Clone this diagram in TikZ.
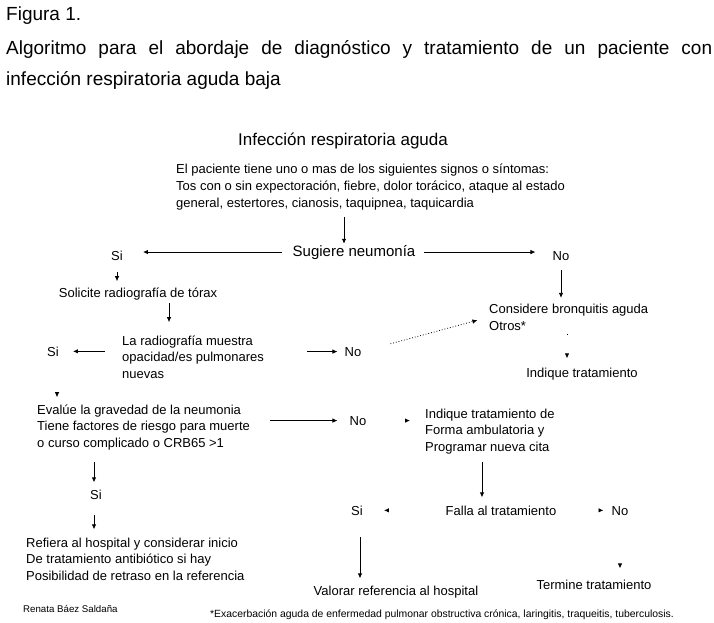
\documentclass[tikz,border=0pt]{standalone}
\usepackage{fontspec}
\setmainfont{Liberation Sans}
\usepackage{tikz}
\usetikzlibrary{arrows.meta,calc}
\tikzset{
  alg/.style={inner sep=0pt, anchor=base, font=\fontsize{13}{16.5}\selectfont},
  algblock/.style={alg, anchor=base west, align=left},
  algarrow/.style={-{Latex[length=5pt,width=4.5pt]}, line width=0.8pt},
  algtip/.style={algarrow, dash pattern=on 0pt off 200pt},
  algdots/.style={algarrow, dotted}
}

\begin{document}
\begin{tikzpicture}[x=1pt, y=-1pt]
\fill[white] (0,0) rectangle (714,623);
\node[algblock, font=\fontsize{19}{31}\selectfont] (fig) at (6,21) {Figura 1.};
\node[algblock, font=\fontsize{19}{31}\selectfont, text width=706pt, align=justify] (ttl) at (6,55)
  {Algoritmo para el abordaje de diagnóstico y tratamiento de un paciente con\linebreak infección respiratoria aguda baja};
\node[alg, font=\fontsize{17}{20}\selectfont] (inf) at (343,146) {Infección respiratoria aguda};
\node[algblock, font=\fontsize{13}{17}\selectfont] (sig) at (176,207)
  {El paciente tiene uno o mas de los siguientes signos o síntomas:\\Tos con o sin expectoración, fiebre, dolor torácico, ataque al estado\\general, estertores, cianosis, taquipnea, taquicardia};
\node[alg, font=\fontsize{15}{18}\selectfont] (sug) at (354,256) {Sugiere neumonía};
\node[alg] (si1) at (117,260) {Si};
\node[alg] (no1) at (561,260) {No};
\node[alg] (sol) at (138,297) {Solicite radiografía de tórax};
\node[algblock] (rad) at (122,378) {La radiografía muestra\\opacidad/es pulmonares\\nuevas};
\node[alg] (si2) at (53,356) {Si};
\node[alg] (no2) at (353,356) {No};
\node[algblock] (bro) at (489,330) {Considere bronquitis aguda\\Otros*};
\node[alg] (ind) at (582,377) {Indique tratamiento};
\node[algblock] (eva) at (37,447) {Evalúe la gravedad de la neumonia\\Tiene factores de riesgo para muerte\\o curso complicado o CRB65 >1};
\node[alg] (no3) at (358,425) {No};
\node[algblock] (amb) at (425,451) {Indique tratamiento de\\Forma ambulatoria y\\Programar nueva cita};
\node[alg] (si3) at (96,499) {Si};
\node[algblock] (ref) at (26,580) {Refiera al hospital y considerar inicio\\De tratamiento antibiótico si hay\\Posibilidad de retraso en la referencia};
\node[alg] (fal) at (501,515) {Falla al tratamiento};
\node[alg] (si4) at (357,515) {Si};
\node[alg] (no4) at (620,515) {No};
\node[alg] (val) at (396,595) {Valorar referencia al hospital};
\node[alg] (ter) at (594,589) {Termine tratamiento};
\node[algblock, font=\fontsize{9.7}{11}\selectfont] (aut) at (23,612) {Renata Báez Saldaña};
\node[algblock, font=\fontsize{10.4}{12}\selectfont] (nota) at (210,617)
  {*Exacerbación aguda de enfermedad pulmonar obstructiva crónica, laringitis, traqueitis, tuberculosis.};

\draw[algarrow, shorten <=7pt, shorten >=1pt] ([xshift=-10pt]sug.north |- sig.south) -- ([xshift=-10pt]sug.north);
\draw[algarrow, shorten <=11pt, shorten >=20pt] (sug.west) -- (si1.east |- sug.west);
\draw[algarrow, shorten <=9pt, shorten >=17pt] (sug.east) -- (no1.west |- sug.east);
\draw[algarrow, shorten <=12pt, shorten >=6pt] (si1.south) -- (si1.south |- sol.north);
\draw[algarrow, shorten <=3pt, shorten >=13pt] ([xshift=31pt]sol.south) -- ([xshift=31pt]sol.south |- rad.north);
\draw[algarrow, shorten <=17pt, shorten >=14pt] (rad.west |- si2.east) -- (si2.east);
\draw[algarrow, shorten <=43pt, shorten >=7pt] (rad.east |- no2.west) -- (no2.west);
\draw[algdots, shorten <=30pt, shorten >=12pt] (no2.east) -- (bro.west);
\draw[algarrow, shorten <=10pt, shorten >=6pt] (no1.south) -- (no1.south |- bro.north);
\draw[algarrow, dash pattern=on 1pt off 60pt, shorten <=4pt, shorten >=9pt] ([xshift=-15pt]ind.north |- bro.south) -- ([xshift=-15pt]ind.north);
\draw[algtip, shorten >=7pt] ([xshift=4pt]si2.south) -- ([xshift=4pt]si2.south |- eva.north);
\draw[algarrow, shorten <=20pt, shorten >=12pt] (eva.east |- no3.west) -- (no3.west);
\draw[algtip, shorten >=15pt] (no3.east) -- (amb.west |- no3.east);
\draw[algarrow, shorten <=12pt, shorten >=7pt] ([xshift=-2pt]si3.north |- eva.south) -- ([xshift=-2pt]si3.north);
\draw[algarrow, shorten <=16pt, shorten >=8pt] ([xshift=-2pt]si3.south) -- ([xshift=-2pt]si3.south |- ref.north);
\draw[algarrow, shorten <=8pt, shorten >=8pt] ([xshift=-19pt]fal.north |- amb.south) -- ([xshift=-19pt]fal.north);
\draw[algtip, shorten >=21pt] (fal.west) -- (si4.east |- fal.west);
\draw[algtip, shorten >=8pt] (fal.east) -- (no4.west |- fal.east);
\draw[algarrow, shorten <=22pt, shorten >=7pt] ([xshift=3pt]si4.south) -- ([xshift=3pt]si4.south |- val.north);
\draw[algtip, shorten >=11pt] (no4.south) -- (no4.south |- ter.north);
\end{tikzpicture}
\end{document}
